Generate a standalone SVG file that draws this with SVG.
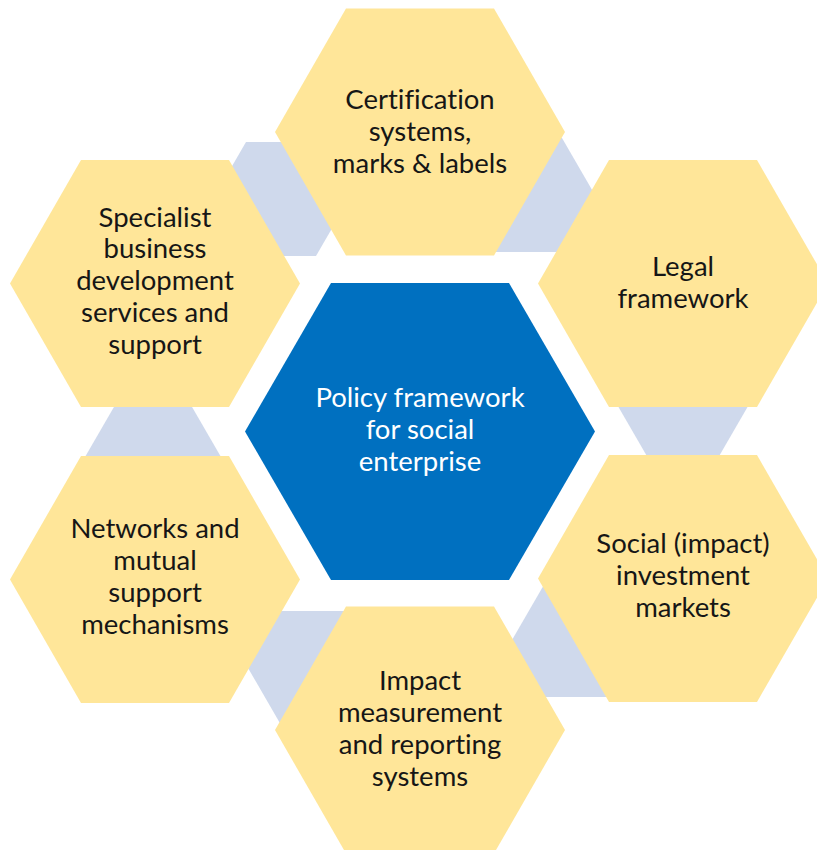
<svg xmlns="http://www.w3.org/2000/svg" width="817" height="850" viewBox="0 0 817 850">
<style>
.y{fill:#FFE699}
.lb{fill:#CFD9EC}
.c{fill:#0070C0}
text{font-family:Lato,"Open Sans","Liberation Sans",sans-serif;font-size:27.5px;text-anchor:middle;font-variant-ligatures:none}
.dk{fill:#161616}
.wt{fill:#FFFFFF}
</style>
<rect width="817" height="850" fill="#FFFFFF"/>
<g id="connectors">
<polygon class="lb" points="213,199 246,142 316,142 349,199 316,256 246,256"/>
<polygon class="lb" points="459,195 492,138 562,138 595,195 562,252 492,252"/>
<polygon class="lb" points="615,401 648,344 718,344 751,401 718,458 648,458"/>
<polygon class="lb" points="512,640 545,583 615,583 648,640 615,697 545,697"/>
<polygon class="lb" points="248,668 281,611 351,611 384,668 351,725 281,725"/>
<polygon class="lb" points="85,457 118,400 188,400 221,457 188,514 118,514"/>
</g>
<g id="certification">
<polygon class="y" points="275,132 346,8.5 494,8.5 565,132 494,255.5 346,255.5"/>
<text class="dk" x="420" y="109">Certification</text>
<text class="dk" x="420" y="141">systems,</text>
<text class="dk" x="420" y="173">marks &amp; labels</text>
</g>
<g id="legal">
<polygon class="y" points="538,283.5 609,160 757,160 828,283.5 757,407 609,407"/>
<text class="dk" x="683" y="276">Legal</text>
<text class="dk" x="683" y="308">framework</text>
</g>
<g id="social-investment">
<polygon class="y" points="538,578.5 609,455 757,455 828,578.5 757,702 609,702"/>
<text class="dk" x="683" y="553">Social (impact)</text>
<text class="dk" x="683" y="585">investment</text>
<text class="dk" x="683" y="617">markets</text>
</g>
<g id="impact-measurement">
<polygon class="y" points="275,730 346,606.5 494,606.5 565,730 494,853.5 346,853.5"/>
<text class="dk" x="420" y="690">Impact</text>
<text class="dk" x="420" y="722">measurement</text>
<text class="dk" x="420" y="754">and reporting</text>
<text class="dk" x="420" y="786">systems</text>
</g>
<g id="networks">
<polygon class="y" points="10,579.5 81,456 229,456 300,579.5 229,703 81,703"/>
<text class="dk" x="155" y="538">Networks and</text>
<text class="dk" x="155" y="570">mutual</text>
<text class="dk" x="155" y="602">support</text>
<text class="dk" x="155" y="634">mechanisms</text>
</g>
<g id="specialist">
<polygon class="y" points="10,283.5 81,160 229,160 300,283.5 229,407 81,407"/>
<text class="dk" x="155" y="227">Specialist</text>
<text class="dk" x="155" y="258">business</text>
<text class="dk" x="155" y="290">development</text>
<text class="dk" x="155" y="322">services and</text>
<text class="dk" x="155" y="354">support</text>
</g>
<g id="policy-framework">
<polygon class="c" points="245,431.5 331,283 509,283 595,431.5 509,580 331,580"/>
<text class="wt" x="420" y="407">Policy framework</text>
<text class="wt" x="420" y="439">for social</text>
<text class="wt" x="420" y="471">enterprise</text>
</g>
</svg>
